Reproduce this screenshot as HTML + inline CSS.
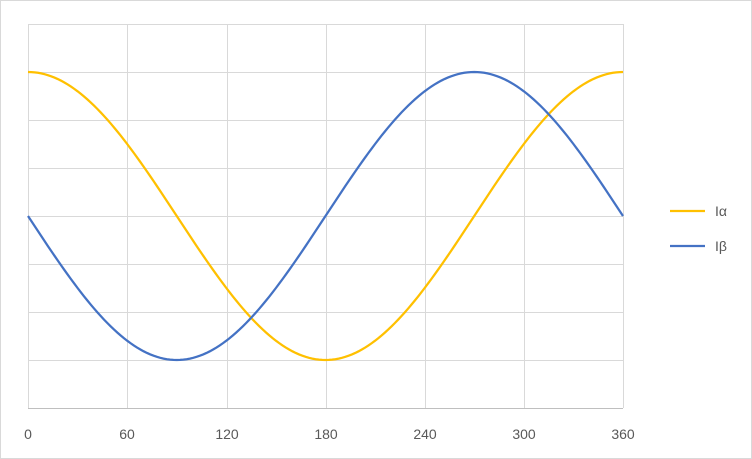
<!DOCTYPE html>
<html><head><meta charset="utf-8"><style>
html,body{margin:0;padding:0;background:#fff;}
svg{display:block;font-family:"Liberation Sans",sans-serif;}
</style></head><body>
<svg id="s" width="752" height="459" viewBox="0 0 752 459" xmlns="http://www.w3.org/2000/svg">
<rect x="0.5" y="0.5" width="751" height="458" fill="#fff" stroke="#d9d9d9"/>
<g stroke="#d9d9d9" stroke-width="1">
<line x1="28" y1="24.5" x2="623" y2="24.5"/>
<line x1="28" y1="72.5" x2="623" y2="72.5"/>
<line x1="28" y1="120.5" x2="623" y2="120.5"/>
<line x1="28" y1="168.5" x2="623" y2="168.5"/>
<line x1="28" y1="216.5" x2="623" y2="216.5"/>
<line x1="28" y1="264.5" x2="623" y2="264.5"/>
<line x1="28" y1="312.5" x2="623" y2="312.5"/>
<line x1="28" y1="360.5" x2="623" y2="360.5"/>
<line x1="28.5" y1="24" x2="28.5" y2="408"/>
<line x1="127.5" y1="24" x2="127.5" y2="408"/>
<line x1="227.5" y1="24" x2="227.5" y2="408"/>
<line x1="326.5" y1="24" x2="326.5" y2="408"/>
<line x1="425.5" y1="24" x2="425.5" y2="408"/>
<line x1="524.5" y1="24" x2="524.5" y2="408"/>
<line x1="623.5" y1="24" x2="623.5" y2="408"/>
</g>
<line x1="28" y1="408.5" x2="623" y2="408.5" stroke="#bfbfbf"/>
<path id="a" fill="none" stroke="#FFC000" stroke-width="2.25"/>
<path id="b" fill="none" stroke="#4472C4" stroke-width="2.25"/>
<g font-size="14" fill="#595959" text-anchor="middle">
<text x="28" y="439">0</text><text x="127" y="439">60</text><text x="227" y="439">120</text>
<text x="326" y="439">180</text><text x="425" y="439">240</text><text x="524" y="439">300</text><text x="623" y="439">360</text>
</g>
<line x1="670" y1="211" x2="705" y2="211" stroke="#FFC000" stroke-width="2.25"/>
<line x1="670" y1="246" x2="705" y2="246" stroke="#4472C4" stroke-width="2.25"/>
<text x="715" y="216" font-size="14" fill="#595959">Iα</text>
<text x="715" y="251" font-size="14" fill="#595959">Iβ</text>
</svg>
<script>
var a="",b="";
for(var d=0;d<=360;d+=2){var x=28+d*595/360,r=d*Math.PI/180;
a+=(d?"L":"M")+x.toFixed(2)+","+(216-144*Math.cos(r)).toFixed(2);
b+=(d?"L":"M")+x.toFixed(2)+","+(216+144*Math.sin(r)).toFixed(2);}
document.getElementById("a").setAttribute("d",a);
document.getElementById("b").setAttribute("d",b);
</script>
</body></html>
